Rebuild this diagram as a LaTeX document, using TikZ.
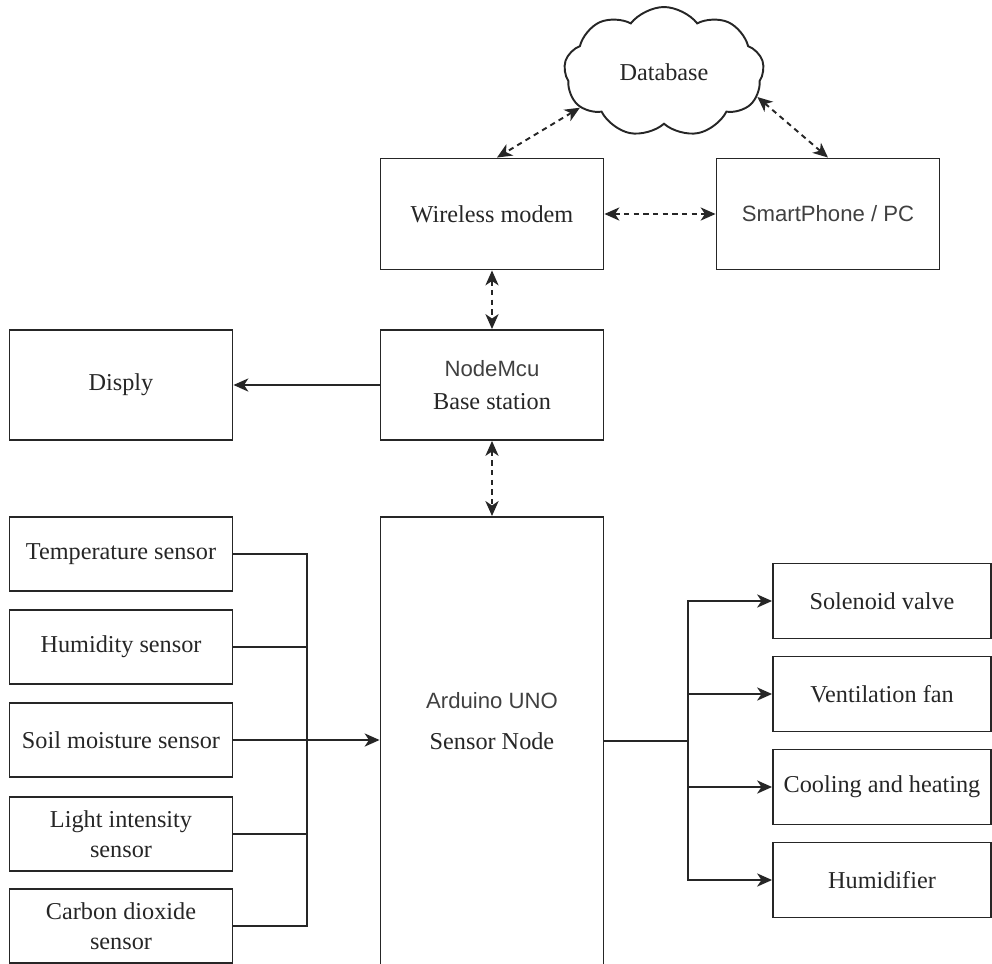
\documentclass[tikz,border=0pt]{standalone}
\usepackage{fontspec}
\setmainfont{Liberation Serif}
\setsansfont{Liberation Sans}
\usetikzlibrary{%
  arrows.meta,
  calc
}
\usetikzlibrary{shapes.symbols}
\newcommand{\sfs}{\sffamily\fontsize{12.6}{17}\selectfont\color{black!75}}

\begin{document}
\begin{tikzpicture}[x=0.02cm, y=-0.02cm, line width=1.1pt, color=black!85,
    >={Stealth[length=8.5pt,width=7.5pt,inset=2.5pt]},
    box/.style={draw, rectangle, minimum width=4.46cm, minimum height=2.22cm,
        align=center, font=\fontsize{13.8}{17}\selectfont},
    sensor/.style={box, minimum height=1.48cm},
    actor/.style={box, minimum width=4.36cm, minimum height=1.5cm},
    link/.style={<->, dash pattern=on 3pt off 2.5pt}]
    \useasboundingbox (0,0) rectangle (992,964);
    \clip (0,0) rectangle (992,964);

    % cloud and upper boxes
    \node[cloud, draw, cloud puffs=9, cloud puff arc=105, aspect=1.55,
        minimum width=4.0cm, minimum height=2.6cm,
        font=\fontsize{13.8}{17}\selectfont] (db) at (664,72) {Database};
    \node[box] (modem) at (492,214) {Wireless modem};
    \node[box] (phone) at (828,214) {\sfs SmartPhone / PC};
    \node[box, minimum height=2.2cm] (disp) at (121,385) {Disply};
    \node[box, minimum height=2.2cm] (mcu) at (492,385) {{\sfs NodeMcu}\\[1.7pt] Base station};
    \node[box, minimum height=9.2cm, anchor=north] (uno) at (492,516) {};
    \node[align=center, font=\fontsize{13.8}{17}\selectfont] (unotext) at (492,721)
        {{\sfs Arduino UNO}\\[6.8pt] Sensor Node};

    % sensors
    \node[sensor] (temp) at (121,554) {Temperature sensor};
    \node[sensor] (hum) at (121,647) {Humidity sensor};
    \node[sensor] (soil) at (121,740) {Soil moisture sensor};
    \node[sensor] (light) at (121,834) {Light intensity\\ sensor};
    \node[sensor] (co2) at (121,926) {Carbon dioxide\\ sensor};

    % actuators
    \node[actor] (valve) at (882,601) {Solenoid valve};
    \node[actor] (fan) at (882,694) {Ventilation fan};
    \node[actor] (clim) at (882,787) {Cooling and heating};
    \node[actor] (humi) at (882,880) {Humidifier};

    \coordinate (busL) at (307,740);
    \coordinate (busR) at (688,741);

    \draw (temp.east) -| (busL);
    \draw (co2.east) -| (busL);
    \draw (hum.east) -- (hum.east -| busL);
    \draw (light.east) -- (light.east -| busL);
    \draw[->] (soil.east) -- (soil.east -| uno.west);

    \draw (uno.east |- busR) -- (busR);
    \foreach \a in {valve,fan,clim,humi}
        \draw[->] (busR) |- (\a.west);

    \draw[->] (mcu.west) -- (disp.east);
    \draw[link] (modem.east) -- (phone.west);
    \draw[link] (modem.south) -- (mcu.north);
    \draw[link] (mcu.south) -- (uno.north);
    \draw[link] (db.203) -- ($(modem.north)+(5,0)$);
    \draw[link] (db.345) -- (phone.north);

\end{tikzpicture}
\end{document}
